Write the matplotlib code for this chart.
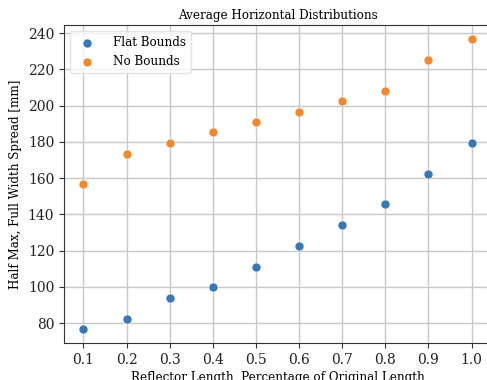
import matplotlib
matplotlib.use("Agg")
import matplotlib.pyplot as plt

# reflector length as a fraction of the original
lengths = [0.1, 0.2, 0.3, 0.4, 0.5, 0.6, 0.7, 0.8, 0.9, 1.0]

# half max full width spread [mm]
flat_bounds = [77.0, 82.5, 94.0, 100.0, 111.0, 122.5, 134.0, 145.5, 162.5, 179.5]
no_bounds = [156.5, 173.5, 179.5, 185.5, 191.0, 196.5, 202.5, 208.0, 225.0, 236.5]

plt.rcParams['font.family'] = 'DejaVu Serif'
plt.rcParams['font.size'] = 10

fig = plt.figure(figsize=(4.87, 3.80), dpi=100)
ax = fig.add_axes([64 / 487, 37 / 380, 427 / 487, 318 / 380])

ax.grid(True, color='#c8c8c8', linewidth=1.0)
ax.set_axisbelow(True)

ax.scatter(lengths, flat_bounds, color='#3a78b5', edgecolor='white', linewidth=0.4, s=42, label='Flat Bounds', zorder=3)
ax.scatter(lengths, no_bounds, color='#f08a30', edgecolor='white', linewidth=0.4, s=42, label='No Bounds', zorder=3)

ax.set_xticks(lengths)
ax.set_title('Average Horizontal Distributions', fontsize=8.6, pad=4)
ax.set_xlabel('Reflector Length, Percentage of Original Length', fontsize=8.6, labelpad=3)
ax.set_ylabel('Half Max, Full Width Spread [mm]', fontsize=8.6)

for side in ['left', 'bottom', 'top']:
    ax.spines[side].set_color('#333333')
ax.spines['right'].set_visible(False)
ax.tick_params(colors='#333333', labelcolor='#222222')

ax.legend(loc='upper left', fontsize=8.6, framealpha=0.8, edgecolor='#dddddd',
          handletextpad=1.2)

fig.savefig('out.png', dpi=100)
